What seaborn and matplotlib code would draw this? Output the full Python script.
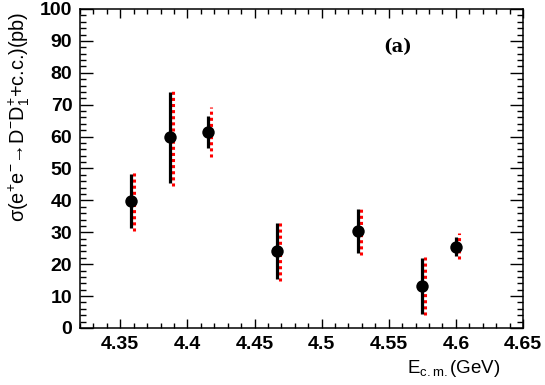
import matplotlib
matplotlib.use("Agg")
import matplotlib.pyplot as plt
import matplotlib.transforms as mtransforms
from matplotlib.ticker import MultipleLocator
import seaborn as sns
import pandas as pd
import numpy as np

# ---- data ----
energy = [4.358, 4.387, 4.415, 4.467, 4.527, 4.575, 4.600]
xsec = [39.8, 59.8, 61.5, 24.2, 30.5, 13.3, 25.5]
stat_lo = [31.2, 45.6, 56.3, 15.3, 23.6, 4.4, 22.6]
stat_hi = [48.3, 73.9, 66.5, 33.0, 37.3, 22.1, 28.6]
syst_lo = [30.5, 44.5, 53.7, 14.8, 22.9, 4.1, 21.5]
syst_hi = [49.0, 74.8, 69.2, 33.6, 38.0, 22.3, 29.7]
xtick_labels = ['4.35', '4.4', '4.45', '4.5', '4.55', '4.6', '4.65']

df = pd.DataFrame({"E": energy, "sigma": xsec})

sns.set_theme(style="ticks")
plt.rcParams['font.family'] = ['Liberation Sans', 'DejaVu Sans']
plt.rcParams['mathtext.fontset'] = 'custom'
plt.rcParams['mathtext.rm'] = 'Liberation Sans'
plt.rcParams['mathtext.it'] = 'Liberation Sans:italic'
plt.rcParams['mathtext.bf'] = 'Liberation Sans:bold'
plt.rcParams['mathtext.default'] = 'regular'
for k in ['text.color', 'axes.labelcolor', 'xtick.color', 'ytick.color',
          'axes.edgecolor']:
    plt.rcParams[k] = 'black'

fig = plt.figure(figsize=(5.45, 3.85), dpi=100)
ax = fig.add_axes([80/545, 1-328/385, 443/545, 319/385])

# systematic bars (red dotted, shifted a few points to the right)
off = mtransforms.offset_copy(ax.transData, fig=fig, x=2.2, y=0, units='points')
ax.vlines(energy, syst_lo, syst_hi, colors='red', linewidth=2.2,
          linestyles=(0, (1, 1)), transform=off, zorder=2)
# statistical bars
ax.vlines(energy, stat_lo, stat_hi, colors='black', linewidth=2.3, zorder=3)

sns.scatterplot(data=df, x="E", y="sigma", ax=ax, color='black', s=80,
                edgecolor='black', linewidth=0, zorder=4, legend=False)

ax.set_xlim(4.32, 4.65)
ax.set_ylim(0, 100)
ax.xaxis.set_minor_locator(MultipleLocator(0.01))
ax.yaxis.set_major_locator(MultipleLocator(10))
ax.yaxis.set_minor_locator(MultipleLocator(2))
ax.set_xticks([float(t) for t in xtick_labels])
ax.set_xticklabels(xtick_labels)

for s in ax.spines.values():
    s.set_linewidth(1.1)
    s.set_color('black')

ax.tick_params(axis='x', which='major', direction='in', length=6.7, width=1.0,
               top=True, bottom=True, labelsize=14, pad=6, colors='black')
ax.tick_params(axis='x', which='minor', direction='in', length=3.4, width=1.0,
               top=True, bottom=True, colors='black')
ax.tick_params(axis='y', which='major', direction='in', length=9.4, width=1.0,
               left=True, right=True, labelsize=14, pad=5.5, colors='black')
ax.tick_params(axis='y', which='minor', direction='in', length=4.3, width=1.0,
               left=True, right=True, colors='black')
for lab in ax.get_xticklabels() + ax.get_yticklabels():
    lab.set_fontweight('bold')

ax.set_ylabel('')
fig.text(19/545, 1-12/385, r'σ(e$^{+}$e$^{-}$→D$^{-}$D$_{1}^{+}$+c.c.)(pb)',
         fontsize=14.3, rotation=90, ha='center', va='top', color='black')
ax.set_xlabel(r'E$_{\rm c.m.}$(GeV)', fontsize=13.5, loc='right', color='black')
ax.xaxis.set_label_coords(0.948, -0.093)

ax.text(0.718, 0.881, '(a)', transform=ax.transAxes, ha='center', va='center',
        fontsize=13, fontweight='bold', family=['DejaVu Serif'], color='black')

fig.savefig('out.png', dpi=100)
